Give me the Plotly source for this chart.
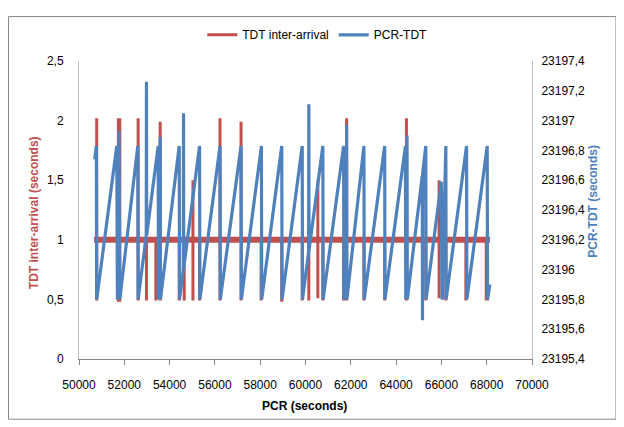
import plotly.graph_objects as go

# ---------------- data ----------------
# PCR-TDT (secondary axis): sawtooth vertices
pcr_x = [50695, 50766, 50783, 51668, 51695, 51770, 51801, 52597, 52611, 52969,
         52978, 52987, 53496, 53509, 53584, 53597, 54425, 54438, 54606, 54615,
         54624, 55323, 55337, 56226, 56239, 57155, 57169, 58054, 58067, 58952,
         58965, 59855, 59868, 60138, 60147, 60155, 60766, 60779, 61682, 61695,
         61810, 61815, 61828, 62580, 62593, 63496, 63509, 64412, 64426, 64483,
         64496, 65156, 65165, 65174, 65311, 65324, 65996, 66032, 66196, 66209,
         67111, 67125, 68023, 68036, 68143]
pcr_tdt = [23196.74, 23196.83, 23195.80, 23196.83, 23195.80, 23196.93, 23195.80, 23196.83, 23195.80, 23196.23,
           23197.26, 23196.23, 23196.83, 23195.80, 23196.89, 23195.80, 23196.83, 23195.80, 23196.00, 23197.05,
           23196.01, 23196.83, 23195.80, 23196.83, 23195.80, 23196.83, 23195.80, 23196.83, 23195.80, 23196.83,
           23195.80, 23196.83, 23195.80, 23196.12, 23197.11, 23196.13, 23196.83, 23195.80, 23196.83, 23195.80,
           23195.84, 23196.97, 23195.80, 23196.83, 23195.80, 23196.83, 23195.80, 23196.83, 23195.80, 23196.90,
           23195.80, 23196.63, 23195.66, 23196.65, 23196.83, 23195.80, 23196.59, 23195.80, 23196.83, 23195.80,
           23196.83, 23195.80, 23196.83, 23195.80, 23195.90]

# TDT inter-arrival (primary axis): ~1 s baseline with spikes
tdt_start_x = 50664
tdt_end_x = 68143
tdt_base = 1.0
tdt_spike_x = [50783, 51739, 51801, 52611, 52978, 53394, 53584, 54425, 54646, 55031,
               55323, 56226, 57155, 58041, 58952, 59855, 60147, 60545, 60766, 61682,
               61815, 62580, 63496, 64456, 65311, 65899, 66049, 66196, 67080, 67979, 68036]
tdt_spike_hi = [2.02, 2.02, 2.02, 2.02, 1.0, 1.0, 1.99, 1.0, 1.0, 1.5,
                1.0, 2.02, 1.99, 1.0, 1.0, 1.0, 1.0, 1.5, 1.0, 1.0,
                2.02, 1.0, 1.0, 2.02, 1.0, 1.5, 1.0, 1.0, 1.0, 1.0, 1.0]
tdt_spike_lo = [0.49, 0.48, 0.48, 0.49, 0.49, 0.49, 0.49, 0.49, 0.49, 0.49,
                0.49, 0.49, 0.49, 0.49, 0.48, 0.49, 0.49, 0.51, 0.49, 0.49,
                0.49, 0.49, 0.49, 0.49, 0.49, 0.51, 0.50, 0.49, 0.49, 0.49, 0.49]

# axes ticks
x_ticks = [50000, 52000, 54000, 56000, 58000, 60000, 62000, 64000, 66000, 68000, 70000]
x_labels = ["50000", "52000", "54000", "56000", "58000", "60000", "62000", "64000", "66000", "68000", "70000"]
left_ticks = [0, 0.5, 1.0, 1.5, 2.0, 2.5]
left_labels = ["0", "0,5", "1", "1,5", "2", "2,5"]
left_grid = [0, 1.0, 1.5, 2.5]
right_ticks = [23195.4, 23195.6, 23195.8, 23196.0, 23196.2, 23196.4, 23196.6, 23196.8, 23197.0, 23197.2, 23197.4]
right_labels = ["23195,4", "23195,6", "23195,8", "23196", "23196,2", "23196,4", "23196,6", "23196,8", "23197", "23197,2", "23197,4"]

RED = "#C0504D"
BLUE = "#4F81BD"
GRID = "#868686"
AXIS = "#BFBFBF"
FONT = "Liberation Sans, Arial, sans-serif"

# build the TDT polyline from baseline + spikes
tdt_x = [tdt_start_x]
tdt_y = [tdt_base]
for sx, hi, lo in zip(tdt_spike_x, tdt_spike_hi, tdt_spike_lo):
    tdt_x += [sx, sx, sx, sx]
    tdt_y += [tdt_base, hi, lo, tdt_base]
tdt_x.append(tdt_end_x)
tdt_y.append(tdt_base)

fig = go.Figure()
# thick baseline band (jitter around 1 s)
fig.add_trace(go.Scatter(x=[tdt_start_x, tdt_end_x], y=[tdt_base, tdt_base], mode="lines",
                         line=dict(color=RED, width=6), showlegend=False, hoverinfo="skip"))
fig.add_trace(go.Scatter(x=tdt_x, y=tdt_y, mode="lines", name="TDT inter-arrival",
                         line=dict(color=RED, width=3)))
fig.add_trace(go.Scatter(x=pcr_x, y=pcr_tdt, mode="lines", name="PCR-TDT", yaxis="y2",
                         line=dict(color=BLUE, width=3.2)))

fig.update_layout(
    width=624, height=427,
    margin=dict(l=71, r=100, t=46, b=76),
    paper_bgcolor="white", plot_bgcolor="white",
    font=dict(family=FONT, size=12, color="#000000"),
    showlegend=True,
    legend=dict(orientation="h", x=0.526, xanchor="center", y=1.088, yanchor="middle",
                font=dict(size=12), bgcolor="rgba(0,0,0,0)", itemwidth=30, tracegroupgap=0),
    xaxis=dict(range=[50000, 70000], tickmode="array", tickvals=x_ticks, ticktext=x_labels,
               ticks="outside", ticklen=5, tickcolor=GRID, showline=True, linecolor=GRID,
               showgrid=False, zeroline=False, ticklabelstandoff=10, fixedrange=True),
    yaxis=dict(range=[0, 2.5], tickmode="array", tickvals=left_ticks, ticktext=left_labels,
               ticks="outside", ticklen=12, tickcolor="rgba(0,0,0,0)", showline=True, linecolor=AXIS,
               showgrid=False, zeroline=False),
    yaxis3=dict(range=[0, 2.5], overlaying="y", side="left", tickmode="array", tickvals=left_grid,
                showticklabels=False, ticks="outside", ticklen=5, tickcolor=GRID, mirror="ticks",
                showgrid=True, gridcolor=GRID, gridwidth=1, zeroline=False, showline=False),
    yaxis2=dict(range=[23195.4, 23197.4], overlaying="y", side="right", tickmode="array",
                tickvals=right_ticks, ticktext=right_labels, ticks="outside", ticklen=6,
                tickcolor="rgba(0,0,0,0)", showline=True, linecolor=AXIS, showgrid=False, zeroline=False),
    annotations=[
        dict(text="<b>TDT inter-arrival (seconds)</b>", xref="paper", yref="paper", x=-0.099, y=0.49,
             textangle=-90, showarrow=False, font=dict(color=RED, size=12), xanchor="center", yanchor="middle"),
        dict(text="<b>PCR-TDT (seconds)</b>", xref="paper", yref="paper", x=1.134, y=0.53,
             textangle=-90, showarrow=False, font=dict(color=BLUE, size=12), xanchor="center", yanchor="middle"),
        dict(text="<b>PCR (seconds)</b>", xref="paper", yref="paper", x=0.498, y=-0.157,
             showarrow=False, font=dict(color="#000000", size=12), xanchor="center", yanchor="middle"),
    ],
    shapes=[dict(type="rect", xref="paper", yref="paper", x0=-0.1556, x1=1.1854, y0=-0.202, y1=1.149,
                 line=dict(color=GRID, width=1), fillcolor="rgba(0,0,0,0)", layer="below")],
)

fig.write_html("out.html")
